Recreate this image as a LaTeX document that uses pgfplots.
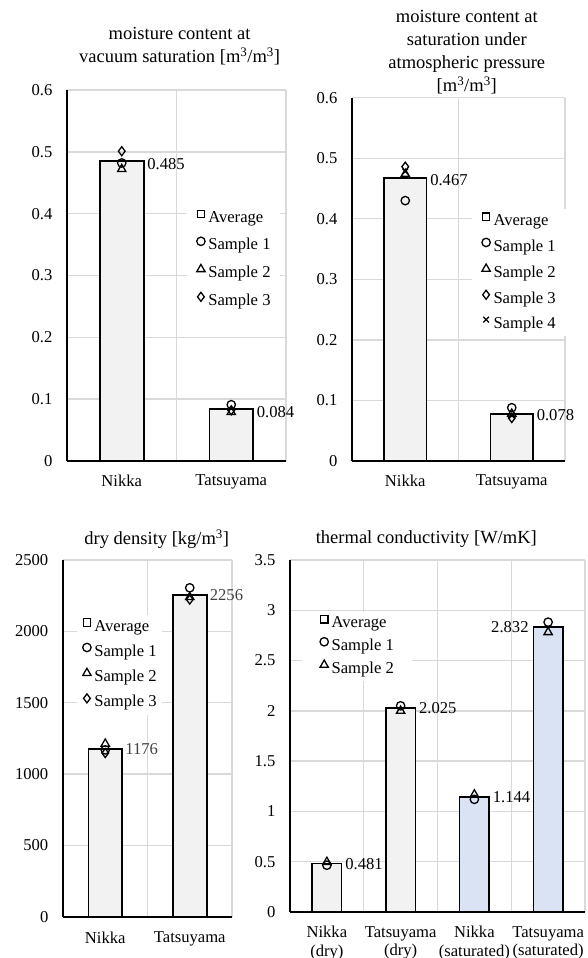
\documentclass[border=0pt]{standalone}
\usepackage{pgfplots}
\pgfplotsset{compat=1.18}
\usepackage{fontspec}
\setmainfont{Liberation Serif}
\definecolor{bargray}{HTML}{F2F2F2}
\definecolor{barblue}{HTML}{DAE3F3}
\definecolor{gridc}{HTML}{D9D9D9}
\definecolor{labgray}{HTML}{404040}
\newcommand\lbl{\fontsize{16.6}{18.5}\selectfont}
\newcommand\ttl{\fontsize{18.5}{23}\selectfont}

\pgfplotsset{
  panel/.style={
    scale only axis,
    anchor=south west,
    axis x line*=bottom, axis y line*=left,
    x axis line style={-, line width=1.7pt, black},
    y axis line style={-, line width=1.7pt, black},
    major tick length=0pt, minor tick length=0pt,
    tick style={draw=none},
    ymajorgrids, xminorgrids,
    major grid style={gridc, line width=1.4pt},
    minor grid style={gridc, line width=1.4pt},
    ymin=0,
    xtick={0,1}, minor xtick={0.5,1.5},
    xmin=-0.5, xmax=1.5,
    tick label style={font=\lbl, black},
    /pgf/number format/assume math mode=true,
    /pgf/number format/1000 sep={},
    scaled y ticks=false,
    yticklabel style={anchor=east, inner sep=0pt, xshift=-14.5pt},
    xticklabel style={anchor=north, inner sep=0pt, yshift=-13.5pt, align=center},
    title style={font=\ttl, align=center, anchor=center, inner sep=0pt},
    clip=false,
    legend cell align=left,
    legend style={draw=none, fill=white, anchor=north west, font=\lbl,
       nodes={inner sep=0pt, text height=12pt, text depth=4pt},
       /tikz/every odd column/.append style={column sep=3.2pt}},
    legend image code/.code={\draw[##1] plot coordinates {(0pt,4.6pt)};},
  },
  bars/.style={ybar, bar width=0.4, bar shift=0pt, draw=black, line width=1.7pt, fill=bargray},
  smp/.style={only marks, black, line width=1.3pt, mark options={solid, fill=none}},
  s1/.style={smp, mark=o, mark size=4.2pt},
  s2/.style={smp, mark=triangle, mark size=4.8pt},
  s3/.style={smp, mark=diamond, mark size=4.5pt},
  s4/.style={smp, mark=x, mark size=4pt},
  avg/.style={smp, mark=square, mark size=3.7pt},
  lab/.style={draw=none, mark=none, nodes near coords, point meta=explicit symbolic,
     nodes near coords style={font=\lbl, inner sep=0pt, anchor=west, black}},
}

\begin{document}
\begin{tikzpicture}
\useasboundingbox (0pt,0pt) rectangle (588pt,958pt);

% Panel 1
\begin{axis}[panel, at={(67pt,497pt)}, width=219pt, height=371pt,
  ymax=0.6, ytick={0,0.1,0.2,0.3,0.4,0.5,0.6},
  xticklabels={Nikka,Tatsuyama},
  title={moisture content at\\vacuum saturation {[}m\textsuperscript{3}/m\textsuperscript{3}{]}},
  title style={at={(0.514,1)}, yshift=37.5pt},
  legend style={at={(0.548,0.687)}, inner xsep=9.5pt, inner ysep=4pt, row sep=10.5pt}]
\addplot[bars, forget plot] coordinates {(0,0.485) (1,0.084)};
\addlegendimage{avg}\addlegendentry{Average}
\addplot[s1] coordinates {(0,0.482) (1,0.091)}; \addlegendentry{Sample 1}
\addplot[s2] coordinates {(0,0.472) (1,0.079)}; \addlegendentry{Sample 2}
\addplot[s3] coordinates {(0,0.501) (1,0.082)}; \addlegendentry{Sample 3}
\addplot[lab, forget plot, nodes near coords style={xshift=25.4pt, yshift=-3pt}]
  coordinates {(0,0.485) [0.485] (1,0.084) [0.084]};
\end{axis}

% Panel 2
\begin{axis}[panel, at={(352pt,497pt)}, width=213pt, height=363.3pt,
  ymax=0.6, ytick={0,0.1,0.2,0.3,0.4,0.5,0.6},
  xticklabels={Nikka,Tatsuyama},
  title={moisture content at\\saturation under\\atmospheric pressure\\{}{[}m\textsuperscript{3}/m\textsuperscript{3}{]}},
  title style={at={(0.539,1)}, yshift=39.5pt},
  legend style={at={(0.562,0.694)}, inner xsep=10pt, inner ysep=4pt, row sep=8.9pt}]
\addplot[bars, forget plot] coordinates {(0,0.467) (1,0.078)};
\addlegendimage{avg}\addlegendentry{Average}
\addplot[s1] coordinates {(0,0.430) (1,0.088)}; \addlegendentry{Sample 1}
\addplot[s2] coordinates {(0,0.474) (1,0.078)}; \addlegendentry{Sample 2}
\addplot[s3] coordinates {(0,0.486) (1,0.071)}; \addlegendentry{Sample 3}
\addplot[s4] coordinates {(0,0.478) (1,0.075)}; \addlegendentry{Sample 4}
\addplot[lab, forget plot, nodes near coords style={xshift=24.8pt, yshift=-1.5pt}]
  coordinates {(0,0.467) [0.467] (1,0.078) [0.078]};
\end{axis}

% Panel 3
\begin{axis}[panel, at={(63pt,41.3pt)}, width=169pt, height=356.7pt,
  ymax=2500, ytick={0,500,1000,1500,2000,2500},
  xticklabels={Nikka,Tatsuyama},
  xticklabel style={yshift=-1.5pt},
  title={dry density {[}kg/m\textsuperscript{3}{]}},
  title style={at={(0.555,1)}, yshift=15pt},
  legend style={at={(0.083,0.847)}, inner xsep=5.5pt, inner ysep=4pt, row sep=8.2pt}]
\addplot[bars, forget plot] coordinates {(0,1176) (1,2256)};
\addlegendimage{avg}\addlegendentry{Average}
\addplot[s1] coordinates {(0,1169) (1,2305)}; \addlegendentry{Sample 1}
\addplot[s2] coordinates {(0,1212) (1,2240)}; \addlegendentry{Sample 2}
\addplot[s3] coordinates {(0,1147) (1,2223)}; \addlegendentry{Sample 3}
\addplot[lab, forget plot, nodes near coords style={xshift=19.9pt, labgray}]
  coordinates {(0,1176) [1176] (1,2256) [2256]};
\end{axis}

% Panel 4
\begin{axis}[panel, at={(290pt,46pt)}, width=295pt, height=352pt,
  ymax=3.5, ytick={0,0.5,1,1.5,2,2.5,3,3.5},
  xtick={0,1,2,3}, minor xtick={0.5,1.5,2.5,3.5}, xmax=3.5,
  xticklabels={{Nikka\\(dry)},{Tatsuyama\\(dry)},{Nikka\\(saturated)},{Tatsuyama\\(saturated)}},
  xticklabel style={yshift=-0.5pt},
  title={thermal conductivity {[}W/mK{]}},
  title style={at={(0.462,1)}, yshift=15pt},
  legend style={at={(0.040,0.854)}, inner xsep=18pt, inner ysep=4pt, row sep=5.7pt}]
\addplot[bars, forget plot] coordinates {(0,0.481) (1,2.025)};
\addplot[bars, fill=barblue, forget plot] coordinates {(2,1.144) (3,2.832)};
\addlegendimage{avg}\addlegendentry{Average}
\addplot[s1] coordinates {(0,0.465) (1,2.050) (2,1.120) (3,2.882)}; \addlegendentry{Sample 1}
\addplot[s2] coordinates {(0,0.497) (1,2.000) (2,1.168) (3,2.782)}; \addlegendentry{Sample 2}
\addplot[lab, forget plot, nodes near coords style={xshift=18.25pt}]
  coordinates {(0,0.481) [0.481] (1,2.025) [2.025] (2,1.144) [1.144]};
\addplot[lab, forget plot, nodes near coords style={anchor=east, xshift=-19.35pt}]
  coordinates {(3,2.832) [2.832]};
\end{axis}
\end{tikzpicture}
\end{document}
